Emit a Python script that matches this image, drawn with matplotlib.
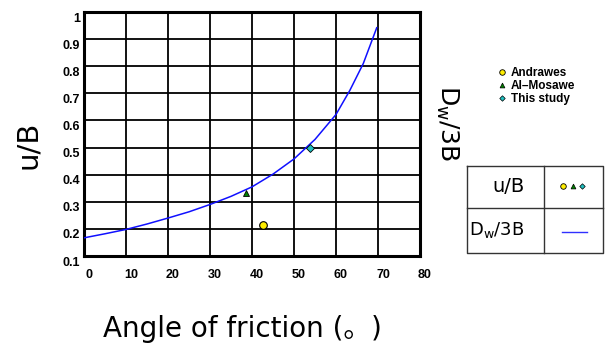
import matplotlib
matplotlib.use("Agg")
from matplotlib import pyplot as plt
from matplotlib import transforms
from matplotlib.lines import Line2D

# curve
angle = [0, 5, 10, 15, 20, 25, 30, 35, 40, 45, 50, 55, 60, 63.3, 66.5, 69.7]
dw_3b = [0.167, 0.182, 0.198, 0.218, 0.240, 0.263, 0.290, 0.320, 0.355,
         0.402, 0.458, 0.530, 0.622, 0.711, 0.810, 0.942]

# test points
andrawes = (42.7, 0.215)
al_mosawe = (38.6, 0.333)
this_study = (53.7, 0.498)

xticks = [0, 10, 20, 30, 40, 50, 60, 70, 80]
yticks = [0.1, 0.2, 0.3, 0.4, 0.5, 0.6, 0.7, 0.8, 0.9, 1.0]
ytick_labels = ['0.1', '0.2', '0.3', '0.4', '0.5', '0.6', '0.7', '0.8', '0.9', '1']

plt.rcParams['font.family'] = ['DejaVu Sans', 'Noto Sans CJK KR']

fig = plt.figure(figsize=(6.05, 3.48), dpi=100)
ax = fig.add_axes([84/605, 1-256/348, 336/605, 244/348])

ax.plot(angle, dw_3b, color='#1010ff', lw=1.1, zorder=3)
ax.plot(*andrawes, 'o', ms=5.5, mfc='#ffee00', mec='black', mew=0.8, zorder=4)
ax.plot(*al_mosawe, '^', ms=5, mfc='#008000', mec='black', mew=0.6, zorder=4)
ax.plot(*this_study, 'D', ms=3.8, mfc='#20c0c0', mec='black', mew=0.6, zorder=4)

ax.set_xlim(0, 80)
ax.set_ylim(0.1, 1.0)
ax.set_xticks(xticks)
ax.set_yticks(yticks)
ax.set_yticklabels(ytick_labels)
ax.grid(True, color='black', lw=1.3)
ax.set_axisbelow(True)
for s in ax.spines.values():
    s.set_linewidth(2.2)
ax.tick_params(length=0, labelsize=9)
ax.tick_params(axis='x', pad=9)
ax.tick_params(axis='y', pad=3)
for lab in ax.get_xticklabels():
    lab.set_fontweight('bold')
    lab.set_family('Liberation Sans')
    lab.set_transform(lab.get_transform() + transforms.ScaledTranslation(5/100, 0, fig.dpi_scale_trans))
for lab in ax.get_yticklabels():
    lab.set_fontweight('bold')
    lab.set_family('Liberation Sans')
    lab.set_transform(lab.get_transform() + transforms.ScaledTranslation(0, -5/100, fig.dpi_scale_trans))

# axis titles
fig.text(28/605, 1-145/348, 'u/B', rotation=90, fontsize=21, ha='center', va='center')
fig.text(447/605, 1-123/348, r'D$_{\mathrm{w}}$/3B', rotation=-90, fontsize=18,
         ha='center', va='center')
fig.text(242/605, 1-337/348, 'Angle of friction (。)', fontsize=20, ha='center', va='baseline')

# legend
handles = [
    Line2D([], [], ls='none', marker='o', ms=4, mfc='#ffee00', mec='black', mew=0.6),
    Line2D([], [], ls='none', marker='^', ms=3.5, mfc='#008000', mec='black', mew=0.5),
    Line2D([], [], ls='none', marker='D', ms=2.8, mfc='#20c0c0', mec='black', mew=0.5),
]
leg = fig.legend(handles, ['Andrawes', 'Al\u2013Mosawe', 'This study'],
                 loc='upper left', bbox_to_anchor=(491/605, 1-61/348),
                 frameon=False, handlelength=0.8, handletextpad=0.4,
                 labelspacing=0.1, borderpad=0,
                 prop={'size': 8.5, 'weight': 'bold', 'family': 'Liberation Sans'})

# table box
tl, tr, tm = 467/605, 603/605, 544/605
tt, tb, tc = 1-166/348, 1-253/348, 1-208/348
tcol = '#333333'
for xs, ys in [([tl, tr, tr, tl, tl], [tt, tt, tb, tb, tt]),
               ([tl, tr], [tc, tc]),
               ([tm, tm], [tt, tb])]:
    fig.add_artist(Line2D(xs, ys, color=tcol, lw=1.0))
fig.text(509/605, (tt + tc)/2, 'u/B', fontsize=14, ha='center', va='center')
fig.text(497/605, (tc + tb)/2, r'D$_{\mathrm{w}}$/3B', fontsize=13, ha='center', va='center')
my = 1-186/348
fig.add_artist(Line2D([563/605], [my], ls='none', marker='o', ms=4, mfc='#ffee00', mec='black', mew=0.6))
fig.add_artist(Line2D([573/605], [my], ls='none', marker='^', ms=3.5, mfc='#008000', mec='black', mew=0.5))
fig.add_artist(Line2D([582/605], [my], ls='none', marker='D', ms=2.8, mfc='#20c0c0', mec='black', mew=0.5))
ly = 1-232/348
fig.add_artist(Line2D([562/605, 587/605], [ly, ly], color='#3030ff', lw=1.0))

fig.savefig('out.png', dpi=100)
